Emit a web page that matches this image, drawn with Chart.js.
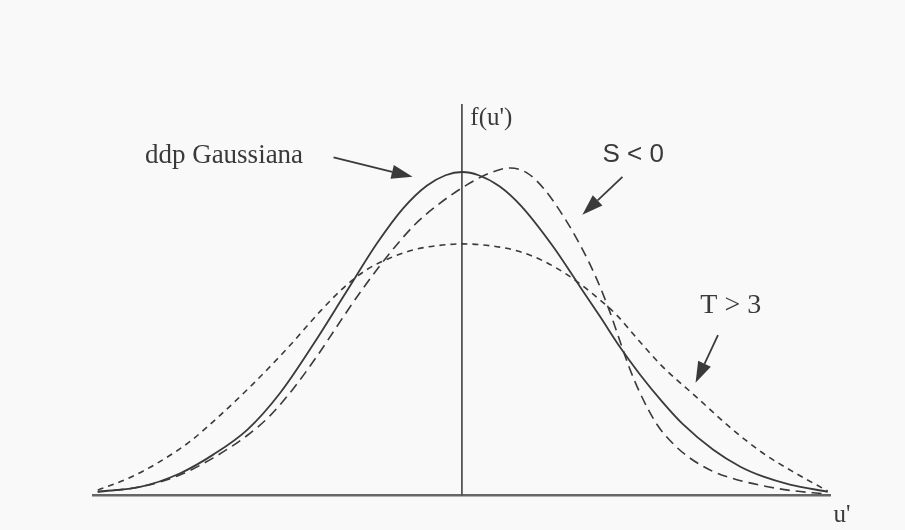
<!DOCTYPE html>
<html>
<head>
<meta charset="utf-8">
<script src="https://cdn.jsdelivr.net/npm/chart.js@4/dist/chart.umd.min.js"></script>
<style>
    html, body { margin: 0; padding: 0; background: #f9f9f9; }
    #chart { display: block; filter: blur(0.4px); }
</style>
</head>
<body>
<canvas id="chart" width="905" height="530"></canvas>
<script>
    'use strict';

    // u' values and f(u') values for each curve
    const gaussU = [-3.09, -2.73, -2.39, -2.11, -1.82, -1.54, -1.26, -0.98, -0.72, -0.50, -0.30, -0.14, 0, 0.14, 0.32, 0.50, 0.77, 1.00, 1.17, 1.34, 1.51, 1.70, 1.87, 2.13, 2.36, 2.55, 2.78, 3.10];
    const gaussF = [0.004, 0.010, 0.027, 0.050, 0.081, 0.127, 0.187, 0.252, 0.312, 0.355, 0.383, 0.396, 0.400, 0.396, 0.382, 0.358, 0.308, 0.258, 0.221, 0.183, 0.149, 0.115, 0.088, 0.056, 0.035, 0.023, 0.013, 0.004];

    const skewU = [-3.09, -2.73, -2.39, -2.11, -1.82, -1.63, -1.43, -1.23, -1.01, -0.84, -0.61, -0.40, -0.20, 0.04, 0.24, 0.41, 0.55, 0.69, 0.86, 1.00, 1.14, 1.25, 1.34, 1.42, 1.51, 1.65, 1.80, 1.93, 2.13, 2.33, 2.72, 3.10];
    const skewF = [0.004, 0.010, 0.025, 0.046, 0.074, 0.098, 0.132, 0.172, 0.220, 0.256, 0.300, 0.335, 0.360, 0.384, 0.399, 0.405, 0.399, 0.380, 0.345, 0.310, 0.268, 0.228, 0.190, 0.157, 0.126, 0.088, 0.062, 0.046, 0.029, 0.019, 0.007, 0.001];

    const flatU = [-3.09, -2.84, -2.59, -2.31, -2.05, -1.77, -1.48, -1.20, -1.01, -0.82, -0.62, -0.40, -0.20, 0.01, 0.32, 0.52, 0.70, 0.90, 1.10, 1.31, 1.50, 1.70, 1.99, 2.27, 2.55, 2.84, 3.10];
    const flatF = [0.006, 0.020, 0.039, 0.066, 0.099, 0.138, 0.182, 0.228, 0.256, 0.278, 0.293, 0.304, 0.309, 0.311, 0.307, 0.300, 0.289, 0.272, 0.250, 0.223, 0.191, 0.159, 0.121, 0.084, 0.052, 0.026, 0.005];

    // Callouts, placed in (u', f) units
    const labels = [
        { text: 'ddp Gaussiana', u: -2.69, f: 0.411, font: '27px "Liberation Serif"' },
        { text: 'S < 0', u: 1.19, f: 0.413, font: '26px "Liberation Sans"' },
        { text: 'T > 3', u: 2.02, f: 0.226, font: '28px "Liberation Serif"' },
        { text: "f(u')", u: 0.07, f: 0.458, font: '25px "Liberation Serif"' },
        { text: "u'", u: 3.15, f: -0.033, font: '25px "Liberation Serif"' }
    ];
    const arrows = [
        { from: [-1.09, 0.418], to: [-0.42, 0.394] },
        { from: [1.36, 0.394], to: [1.02, 0.347] },
        { from: [2.17, 0.198], to: [1.98, 0.139] }
    ];

    const ink = '#3a3a3a';

    function toPoints(us, fs) {
        return us.map(function (u, i) { return { x: u, y: fs[i] }; });
    }

    const calloutPlugin = {
        id: 'callouts',
        afterDraw: function (chart) {
            const ctx = chart.ctx;
            const xs = chart.scales.x;
            const ys = chart.scales.y;
            ctx.save();
            ctx.fillStyle = ink;
            ctx.strokeStyle = ink;
            ctx.textBaseline = 'alphabetic';
            ctx.textAlign = 'left';
            labels.forEach(function (l) {
                ctx.font = l.font;
                ctx.fillText(l.text, xs.getPixelForValue(l.u), ys.getPixelForValue(l.f));
            });
            arrows.forEach(function (a) {
                const x0 = xs.getPixelForValue(a.from[0]);
                const y0 = ys.getPixelForValue(a.from[1]);
                const x1 = xs.getPixelForValue(a.to[0]);
                const y1 = ys.getPixelForValue(a.to[1]);
                const ang = Math.atan2(y1 - y0, x1 - x0);
                const len = 21;
                const half = 7;
                const bx = x1 - len * Math.cos(ang);
                const by = y1 - len * Math.sin(ang);
                ctx.lineWidth = 1.8;
                ctx.beginPath();
                ctx.moveTo(x0, y0);
                ctx.lineTo(bx, by);
                ctx.stroke();
                ctx.beginPath();
                ctx.moveTo(x1, y1);
                ctx.lineTo(bx - half * Math.sin(ang), by + half * Math.cos(ang));
                ctx.lineTo(bx + half * Math.sin(ang), by - half * Math.cos(ang));
                ctx.closePath();
                ctx.fill();
            });
            ctx.restore();
        }
    };

    new Chart(document.getElementById('chart'), {
        type: 'scatter',
        data: {
            datasets: [
                {
                    label: 'T > 3',
                    data: toPoints(flatU, flatF),
                    borderColor: ink,
                    borderWidth: 1.6,
                    borderDash: [6, 5]
                },
                {
                    label: 'S < 0',
                    data: toPoints(skewU, skewF),
                    borderColor: ink,
                    borderWidth: 1.6,
                    borderDash: [10, 6]
                },
                {
                    label: 'ddp Gaussiana',
                    data: toPoints(gaussU, gaussF),
                    borderColor: ink,
                    borderWidth: 1.8
                }
            ]
        },
        options: {
            responsive: false,
            animation: false,
            layout: {
                padding: { left: 93, right: 75, top: 105, bottom: 35 }
            },
            datasets: {
                scatter: {
                    showLine: true,
                    pointRadius: 0,
                    cubicInterpolationMode: 'monotone'
                }
            },
            plugins: {
                legend: { display: false },
                tooltip: { enabled: false }
            },
            scales: {
                x: {
                    type: 'linear',
                    min: -3.13,
                    max: 3.12,
                    grid: { display: false },
                    ticks: { display: false },
                    border: { display: true, color: '#666', width: 2.5 },
                    afterFit: function (s) { s.height = 0; }
                },
                y: {
                    type: 'linear',
                    position: { x: 0 },
                    min: 0,
                    max: 0.483,
                    grid: { display: false },
                    ticks: { display: false },
                    border: { display: true, color: '#555', width: 1.8 }
                }
            }
        },
        plugins: [calloutPlugin]
    });
</script>
</body>
</html>
